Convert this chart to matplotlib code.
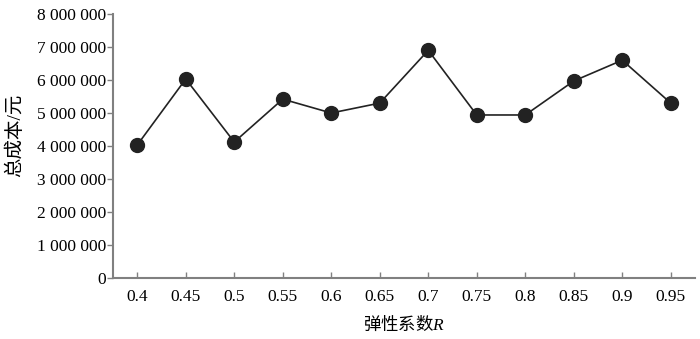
import matplotlib
matplotlib.use("Agg")
import matplotlib.pyplot as plt
from matplotlib.ticker import FuncFormatter

plt.rcParams['font.family'] = ['Liberation Serif', 'Noto Sans CJK SC']
plt.rcParams['mathtext.fontset'] = 'custom'
plt.rcParams['mathtext.rm'] = 'Noto Sans CJK SC'
plt.rcParams['mathtext.it'] = 'Liberation Serif:italic'

# 弹性系数 R 与总成本
r_labels = ['0.4', '0.45', '0.5', '0.55', '0.6', '0.65', '0.7', '0.75', '0.8', '0.85', '0.9', '0.95']
total_cost = [4030000, 6030000, 4120000, 5420000, 5000000, 5300000,
              6900000, 4940000, 4940000, 5970000, 6600000, 5300000]

fig = plt.figure(figsize=(7, 3.39), dpi=100)
ax = fig.add_axes([113 / 700, 1 - 278 / 339, 582 / 700, 264 / 339])

x = list(range(len(r_labels)))
ax.plot(x, total_cost, color='#222222', linewidth=1.2, marker='o',
        markersize=10, markerfacecolor='#222222', markeredgecolor='#222222')

ax.set_xlim(-0.5, len(r_labels) - 0.5)
ax.set_ylim(0, 8000000)
ax.set_xticks(x)
ax.set_xticklabels(r_labels)
ax.set_yticks(range(0, 8000001, 1000000))
ax.yaxis.set_major_formatter(FuncFormatter(lambda v, p: f"{v:,.0f}".replace(",", " ")))

for side in ['top', 'right']:
    ax.spines[side].set_visible(False)
for side in ['left', 'bottom']:
    ax.spines[side].set_color('#808080')
    ax.spines[side].set_linewidth(1.5)

ax.tick_params(axis='y', direction='out', length=4, width=1, color='#808080',
               labelsize=12.5, pad=1)
ax.tick_params(axis='x', direction='in', length=4, width=1, color='#808080',
               labelsize=12.5, pad=8)

ax.set_xlabel(r'$\mathrm{弹性系数}R$', fontsize=12.5, labelpad=7)
ax.set_ylabel('总成本/元', fontsize=14)
ax.yaxis.set_label_coords(-0.152, 0.54)

plt.savefig('out.png', dpi=100)
